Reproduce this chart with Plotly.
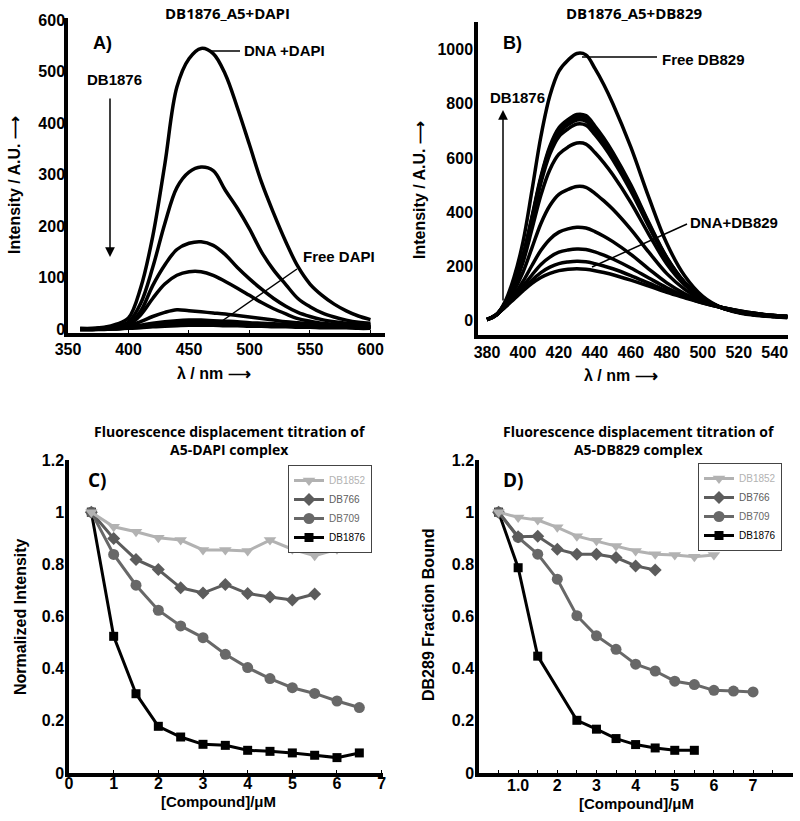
import plotly.graph_objects as go

W, H = 800, 821
def px(x): return x / W
def py(y): return 1 - y / H

# ---------------- Panel A data (DB1876_A5+DAPI) ----------------
wl_a = [360, 370, 380, 390, 400, 410, 420, 430, 440, 450, 460, 470, 480,
        490, 500, 510, 520, 530, 540, 550, 560, 570, 580, 590, 600]
a_dna_dapi = [2, 2, 4, 10, 22, 80, 180, 320, 470, 525, 545, 535, 495, 430, 358, 285, 225, 170, 122, 88, 66, 49, 36, 26, 19]
a_t2 = [1, 1, 3, 7, 14, 50, 120, 205, 275, 305, 315, 308, 270, 235, 195, 150, 115, 87, 60, 44, 32, 24, 18, 14, 12]
a_t3 = [1, 1, 2, 5, 10, 35, 85, 125, 155, 167, 170, 163, 145, 120, 98, 78, 60, 45, 33, 25, 19, 15, 12, 10, 9]
a_t4 = [1, 1, 2, 4, 9, 28, 60, 88, 105, 112, 112, 105, 93, 80, 66, 52, 40, 30, 21, 16, 12, 10, 8, 7, 6]
a_t5 = [1, 1, 1, 3, 7, 15, 25, 33, 38, 36, 34, 32, 30, 27, 24, 21, 18, 15, 13, 11, 9, 8, 7, 6, 5]
a_t6 = [0, 0, 1, 2, 4, 8, 12, 15, 17, 18, 18, 17, 16, 15, 13, 12, 11, 10, 9, 8, 7, 6, 5, 5, 4]
a_t7 = [0, 0, 1, 2, 3, 6, 10, 13, 14, 15, 15, 14, 13, 12, 11, 10, 9, 8, 7, 6, 6, 5, 5, 4, 4]
a_t8 = [0, 0, 1, 1, 3, 5, 8, 10, 11, 12, 12, 11, 11, 10, 9, 8, 7, 7, 6, 5, 5, 4, 4, 3, 3]
a_free_dapi = [0, 0, 0, 1, 2, 3, 5, 6, 7, 8, 8, 8, 7, 7, 6, 6, 5, 5, 4, 4, 3, 3, 3, 2, 2]
spectra_a = [a_dna_dapi, a_t2, a_t3, a_t4, a_t5, a_t6, a_t7, a_t8, a_free_dapi]

# ---------------- Panel B data (DB1876_A5+DB829) ----------------
wl_b = [380, 385, 390, 395, 400, 405, 410, 415, 420, 425, 430, 435, 440, 445,
        450, 460, 470, 480, 490, 500, 510, 520, 530, 540, 547]
b_free_db829 = [5, 20, 70, 160, 290, 480, 680, 830, 920, 960, 985, 980, 930, 870, 800, 640, 455, 285, 165, 90, 50, 30, 20, 15, 12]
b_t760 = [5, 21, 64, 137, 239, 383, 532, 644, 711, 741, 760, 756, 718, 673, 621, 501, 362, 234, 142, 83, 50, 32, 22, 16, 13]
b_t750 = [5, 21, 64, 136, 237, 379, 526, 636, 702, 732, 750, 746, 709, 665, 614, 495, 358, 232, 141, 83, 50, 32, 22, 16, 13]
b_t740 = [5, 21, 64, 135, 234, 374, 519, 628, 693, 722, 740, 736, 700, 656, 605, 489, 354, 229, 140, 83, 50, 32, 22, 16, 13]
b_t725 = [5, 21, 63, 134, 231, 368, 509, 615, 679, 707, 725, 721, 686, 643, 593, 479, 348, 226, 139, 82, 50, 32, 22, 17, 14]
b_t655 = [5, 21, 62, 127, 215, 338, 464, 558, 614, 640, 655, 651, 620, 582, 538, 436, 319, 210, 132, 80, 50, 33, 23, 17, 14]
b_t495 = [5, 21, 58, 111, 179, 269, 359, 425, 466, 484, 495, 492, 470, 442, 411, 337, 253, 174, 116, 75, 50, 34, 24, 18, 15]
b_t345 = [5, 22, 54, 95, 145, 204, 260, 301, 327, 339, 345, 342, 329, 312, 292, 245, 191, 140, 100, 71, 50, 36, 26, 19, 16]
b_t265 = [5, 22, 52, 87, 127, 169, 208, 235, 253, 261, 265, 263, 254, 242, 228, 195, 158, 122, 92, 68, 50, 36, 26, 20, 17]
b_t220 = [5, 22, 51, 83, 116, 150, 178, 198, 211, 217, 220, 218, 211, 202, 192, 167, 139, 111, 88, 67, 50, 37, 27, 20, 17]
b_dna_db829 = [5, 22, 50, 80, 110, 138, 160, 175, 185, 190, 192, 190, 185, 178, 170, 150, 128, 105, 85, 66, 50, 37, 27, 20, 17]
spectra_b = [b_free_db829, b_t760, b_t750, b_t740, b_t725, b_t655, b_t495,
             b_t345, b_t265, b_t220, b_dna_db829]

# ---------------- Panel C data (A5-DAPI displacement) ----------------
c_x_1852 = [0.5, 1, 1.5, 2, 2.5, 3, 3.5, 4, 4.5, 5, 5.5, 6]
c_db1852 = [1.0, 0.944, 0.925, 0.902, 0.893, 0.855, 0.855, 0.851, 0.893, 0.858, 0.833, 0.858]
c_x_766 = [0.5, 1, 1.5, 2, 2.5, 3, 3.5, 4, 4.5, 5, 5.5]
c_db766 = [1.0, 0.899, 0.819, 0.780, 0.710, 0.690, 0.723, 0.688, 0.675, 0.663, 0.686]
c_x_709 = [0.5, 1, 1.5, 2, 2.5, 3, 3.5, 4, 4.5, 5, 5.5, 6, 6.5]
c_db709 = [1.0, 0.838, 0.720, 0.624, 0.564, 0.519, 0.455, 0.404, 0.362, 0.327, 0.305, 0.276, 0.251]
c_x_1876 = [0.5, 1, 1.5, 2, 2.5, 3, 3.5, 4, 4.5, 5, 5.5, 6, 6.5]
c_db1876 = [1.0, 0.524, 0.304, 0.179, 0.138, 0.110, 0.106, 0.087, 0.083, 0.077, 0.068, 0.059, 0.077]

# ---------------- Panel D data (A5-DB829 displacement) ----------------
d_x_1852 = [0.5, 1, 1.5, 2, 2.5, 3, 3.5, 4, 4.5, 5, 5.5, 6]
d_db1852 = [1.0, 0.980, 0.970, 0.942, 0.908, 0.890, 0.870, 0.851, 0.839, 0.836, 0.829, 0.836]
d_x_766 = [0.5, 1, 1.5, 2, 2.5, 3, 3.5, 4, 4.5]
d_db766 = [1.0, 0.906, 0.908, 0.858, 0.839, 0.839, 0.826, 0.794, 0.778]
d_x_709 = [0.5, 1, 1.5, 2, 2.5, 3, 3.5, 4, 4.5, 5, 5.5, 6, 6.5, 7]
d_db709 = [1.0, 0.903, 0.839, 0.743, 0.603, 0.526, 0.474, 0.417, 0.391, 0.352, 0.339, 0.317, 0.314, 0.311]
d_x_1876 = [0.5, 1, 1.5, 2.5, 3, 3.5, 4, 4.5, 5, 5.5]
d_db1876 = [1.0, 0.787, 0.448, 0.202, 0.168, 0.132, 0.109, 0.096, 0.087, 0.087]

# tick labels
a_xticks = [350, 400, 450, 500, 550, 600]
a_yticks = [0, 100, 200, 300, 400, 500, 600]
b_xticks = [380, 400, 420, 440, 460, 480, 500, 520, 540]
b_yticks = [0, 200, 400, 600, 800, 1000]
cd_yticks = [0, 0.2, 0.4, 0.6, 0.8, 1.0, 1.2]
cd_yticktext = ["0", "0.2", "0.4", "0.6", "0.8", "1", "1.2"]
c_xticks = [0, 1, 2, 3, 4, 5, 6, 7]
d_xticks = [1, 2, 3, 4, 5, 6, 7]
d_xticktext = ["1.0", "2", "3", "4", "5", "6", "7"]

series_names = ["DB1852", "DB766", "DB709", "DB1876"]
series_colors = ["#b2b2b2", "#5c5c5c", "#686868", "#000000"]
series_symbols = ["triangle-down", "diamond", "circle", "square"]
series_sizes = [11, 10, 11, 9]

fig = go.Figure()

for ys in spectra_a:
    fig.add_trace(go.Scatter(x=wl_a, y=ys, mode="lines", line=dict(color="black", width=3.5, shape="spline"),
                             xaxis="x", yaxis="y", showlegend=False, hoverinfo="skip"))
for ys in spectra_b:
    fig.add_trace(go.Scatter(x=wl_b, y=ys, mode="lines", line=dict(color="black", width=3.5, shape="spline"),
                             xaxis="x2", yaxis="y2", showlegend=False, hoverinfo="skip"))

c_sets = [(c_x_1852, c_db1852), (c_x_766, c_db766), (c_x_709, c_db709), (c_x_1876, c_db1876)]
d_sets = [(d_x_1852, d_db1852), (d_x_766, d_db766), (d_x_709, d_db709), (d_x_1876, d_db1876)]

for sets, xa, ya, lg in [(c_sets, "x3", "y3", "legend"), (d_sets, "x4", "y4", "legend2")]:
    for i in [3, 2, 1, 0]:
        xs, ys = sets[i]
        fig.add_trace(go.Scatter(
            x=xs, y=ys, mode="lines+markers",
            name='<span style="color:%s">%s</span>' % (series_colors[i], series_names[i]),
            line=dict(color=series_colors[i], width=3),
            marker=dict(symbol=series_symbols[i], size=series_sizes[i], color=series_colors[i]),
            xaxis=xa, yaxis=ya, legend=lg))

tickfont = dict(family="Liberation Sans, Arial, sans-serif", size=16, color="black", weight="bold")

def ax(**kw):
    d = dict(showgrid=False, zeroline=False, showline=True, linecolor="black", linewidth=3.5,
             tickfont=tickfont, ticks="", fixedrange=True, automargin=False)
    d.update(kw)
    return d

inside = dict(ticks="inside", ticklen=3, tickwidth=1, tickcolor="black")

fig.update_layout(
    template="none",
    width=W, height=H, margin=dict(l=0, r=0, t=0, b=0, pad=0), autosize=False,
    paper_bgcolor="white", plot_bgcolor="white",
    xaxis=ax(domain=[px(68), px(385)], range=[350, 612], tickvals=a_xticks, anchor="y",
             ticklabelstandoff=-1, **inside),
    yaxis=ax(domain=[py(333), py(18)], range=[-7, 604], tickvals=a_yticks, anchor="x", ticklabelstandoff=-4),
    xaxis2=ax(domain=[px(478), px(788)], range=[375, 547.4], tickvals=b_xticks, anchor="y2", ticklabelstandoff=0),
    yaxis2=ax(domain=[py(335), py(22)], range=[-52, 1101], tickvals=b_yticks, anchor="x2", ticklabelstandoff=-2),
    xaxis3=ax(domain=[px(69), px(383)], range=[0, 7.03], tickvals=c_xticks, anchor="y3",
              ticklabelstandoff=-7, **inside),
    yaxis3=ax(domain=[py(773), py(460)], range=[0, 1.2], tickvals=cd_yticks, ticktext=cd_yticktext,
              anchor="x3", ticklabelstandoff=-2),
    xaxis4=ax(domain=[px(479), px(793)], range=[0, 8.02], tickvals=d_xticks, ticktext=d_xticktext, anchor="y4",
              ticklabelstandoff=-5,
              minor=dict(dtick=0.5, tick0=0, ticks="inside", ticklen=3, tickwidth=1, tickcolor="black"),
              **inside),
    yaxis4=ax(domain=[py(773), py(460)], range=[0, 1.2], tickvals=cd_yticks, ticktext=cd_yticktext,
              anchor="x4", ticklabelstandoff=-2),
    legend=dict(x=px(288), y=py(465), xanchor="left", yanchor="top", traceorder="reversed",
                bgcolor="white", bordercolor="#444", borderwidth=1, itemwidth=30, tracegroupgap=0,
                font=dict(family="Liberation Sans, Arial, sans-serif", size=10, color="black")),
    legend2=dict(x=px(698), y=py(463), xanchor="left", yanchor="top", traceorder="reversed",
                 bgcolor="white", bordercolor="#444", borderwidth=1, itemwidth=30, tracegroupgap=0,
                 font=dict(family="Liberation Sans, Arial, sans-serif", size=10, color="black")),
)

arial_b = dict(family="Liberation Sans, Arial, sans-serif", color="black", weight="bold")
open_b = dict(family="Open Sans, Noto Sans, sans-serif", color="black", weight="bold")

def txt(x, y, text, size=14, font=arial_b, xanchor="center", angle=0):
    f = dict(font); f["size"] = size
    fig.add_annotation(x=px(x), y=py(y), xref="paper", yref="paper", text=text, showarrow=False,
                       font=f, xanchor=xanchor, yanchor="middle", textangle=angle)

# titles
txt(228, 13, "DB1876_A5+DAPI", 15, open_b)
txt(634, 13, "DB1876_A5+DB829", 15, open_b)
txt(230, 440, "Fluorescence displacement titration of<br>A5-DAPI complex", 14, open_b)
txt(639, 440, "Fluorescence displacement titration of<br>A5-DB829 complex", 14, open_b)

# panel labels
txt(102, 43, "A)", 18)
txt(512, 43, "B)", 18)
txt(97, 480, "C)", 19, open_b)
txt(513, 480, "D)", 19, open_b)

# axis titles
txt(14, 185, "Intensity / A.U. ⟶", 16, angle=-90)
txt(214, 373, "λ / nm ⟶", 16)
txt(420, 190, "Intensity / A.U. ⟶", 16, angle=-90)
txt(621, 375, "λ / nm ⟶", 16)
txt(20, 617, "Normalized Intensity", 16, angle=-90)
txt(218, 801, "[Compound]/μM", 15)
txt(428, 615, "DB289 Fraction Bound", 16, angle=-90)
txt(636, 803, "[Compound]/μM", 15)

# in-plot labels
txt(242, 51, "DNA +DAPI", 15, xanchor="left")
txt(301, 256, "Free DAPI", 15, xanchor="left")
txt(115, 80, "DB1876", 15)
txt(660, 59, "Free DB829", 15, xanchor="left")
txt(688, 223, "DNA+DB829", 15, xanchor="left")
txt(517, 98, "DB1876", 15)

# leader lines
for (x0, y0, x1, y1) in [(208, 51, 240, 51), (222, 321, 297, 269), (582, 57, 657, 57), (592, 267, 687, 224)]:
    fig.add_shape(type="line", xref="paper", yref="paper", x0=px(x0), y0=py(y0), x1=px(x1), y1=py(y1),
                  line=dict(color="black", width=1.5))

# arrows
def arrow(xh, yh, xt, yt):
    fig.add_annotation(x=px(xh), y=py(yh), xref="paper", yref="paper", ax=xt - xh, ay=yt - yh,
                       text="", showarrow=True, arrowhead=2, arrowsize=1.3, arrowwidth=1.5,
                       arrowcolor="black", standoff=0, startstandoff=0)

arrow(110, 257, 110, 97)
arrow(503, 110, 503, 302)

fig.write_html("out.html", config={"displayModeBar": False},
               post_script="document.body.style.margin='0px';document.body.style.overflow='hidden';")
